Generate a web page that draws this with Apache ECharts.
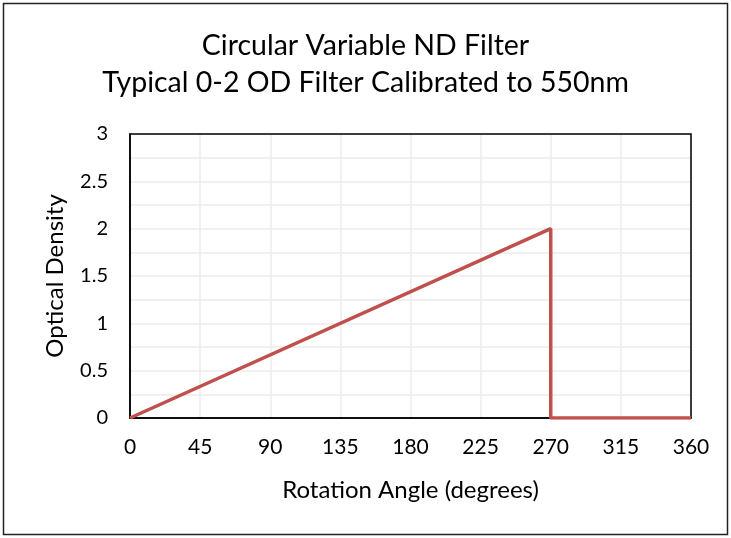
<!DOCTYPE html>
<html>
<head>
<meta charset="utf-8">
<script src="https://cdn.jsdelivr.net/npm/echarts@6/dist/echarts.min.js"></script>
<style>
	body { margin: 0; background: #fff; }
	#chart { width: 731px; height: 538px; }
</style>
</head>
<body>
<div id="chart"></div>
<script>
/** 圆形可变ND滤光片 标定曲线 */
let angle = [0, 270, 270, 360];
let density = [0, 2, 0, 0];
let x_ticks = [0, 45, 90, 135, 180, 225, 270, 315, 360];
let y_ticks = [0, 0.5, 1, 1.5, 2, 2.5, 3];

let nd_chart = echarts.init(document.getElementById("chart"));
let font = "Lato, 'Open Sans', sans-serif";
let nd_option = {
	animation: false,
	title: {
		text: "Circular Variable ND Filter\nTypical 0-2 OD Filter Calibrated to 550nm",
		left: "center",
		top: 22,
		textStyle: {
			fontFamily: font,
			fontSize: 28.5,
			fontWeight: "normal",
			color: "#000",
			lineHeight: 37,
		},
	},
	graphic: [
		{
			// 外框
			type: "rect",
			shape: { x: 3.5, y: 3.5, width: 724, height: 531 },
			style: { fill: "none", stroke: "#222", lineWidth: 1.5 },
			silent: true,
		},
		{
			// 绘图区黑框
			type: "rect",
			shape: { x: 130, y: 134, width: 561, height: 284 },
			style: { fill: "none", stroke: "#000", lineWidth: 1.5 },
			silent: true,
			z: 1,
		},
	],
	grid: {
		left: 130,
		right: 40,
		top: 134,
		bottom: 120,
	},
	xAxis: {
		type: "value",
		min: x_ticks[0],
		max: x_ticks[x_ticks.length - 1],
		interval: 45,
		name: "Rotation Angle (degrees)",
		nameLocation: "middle",
		nameGap: 60,
		nameTextStyle: { fontFamily: font, fontSize: 24, color: "#000" },
		axisLine: { show: true, lineStyle: { color: "#000", width: 1.5 } },
		axisTick: { show: false },
		axisLabel: { fontFamily: font, fontSize: 21, color: "#000", margin: 19 },
		splitLine: { show: true, lineStyle: { color: "#ececec", width: 1.5 } },
	},
	yAxis: {
		type: "value",
		min: y_ticks[0],
		max: y_ticks[y_ticks.length - 1],
		interval: 0.5,
		name: "Optical Density",
		nameLocation: "middle",
		nameGap: 63,
		nameTextStyle: { fontFamily: font, fontSize: 24, color: "#000" },
		axisLine: { show: true, lineStyle: { color: "#000", width: 1.5 } },
		axisTick: { show: false },
		axisLabel: { fontFamily: font, fontSize: 20, color: "#000", margin: 22 },
		splitLine: { show: true, lineStyle: { color: "#ececec", width: 1.5 } },
		minorTick: { show: false, splitNumber: 2 },
		minorSplitLine: { show: true, lineStyle: { color: "#ececec", width: 1.5 } },
	},
	series: [
		{
			type: "line",
			data: angle.map((a, i) => [a, density[i]]),
			symbol: "none",
			lineStyle: { color: "#c0504d", width: 3.5 },
			z: 3,
		},
	],
};
nd_chart.setOption(nd_option);
</script>
</body>
</html>
